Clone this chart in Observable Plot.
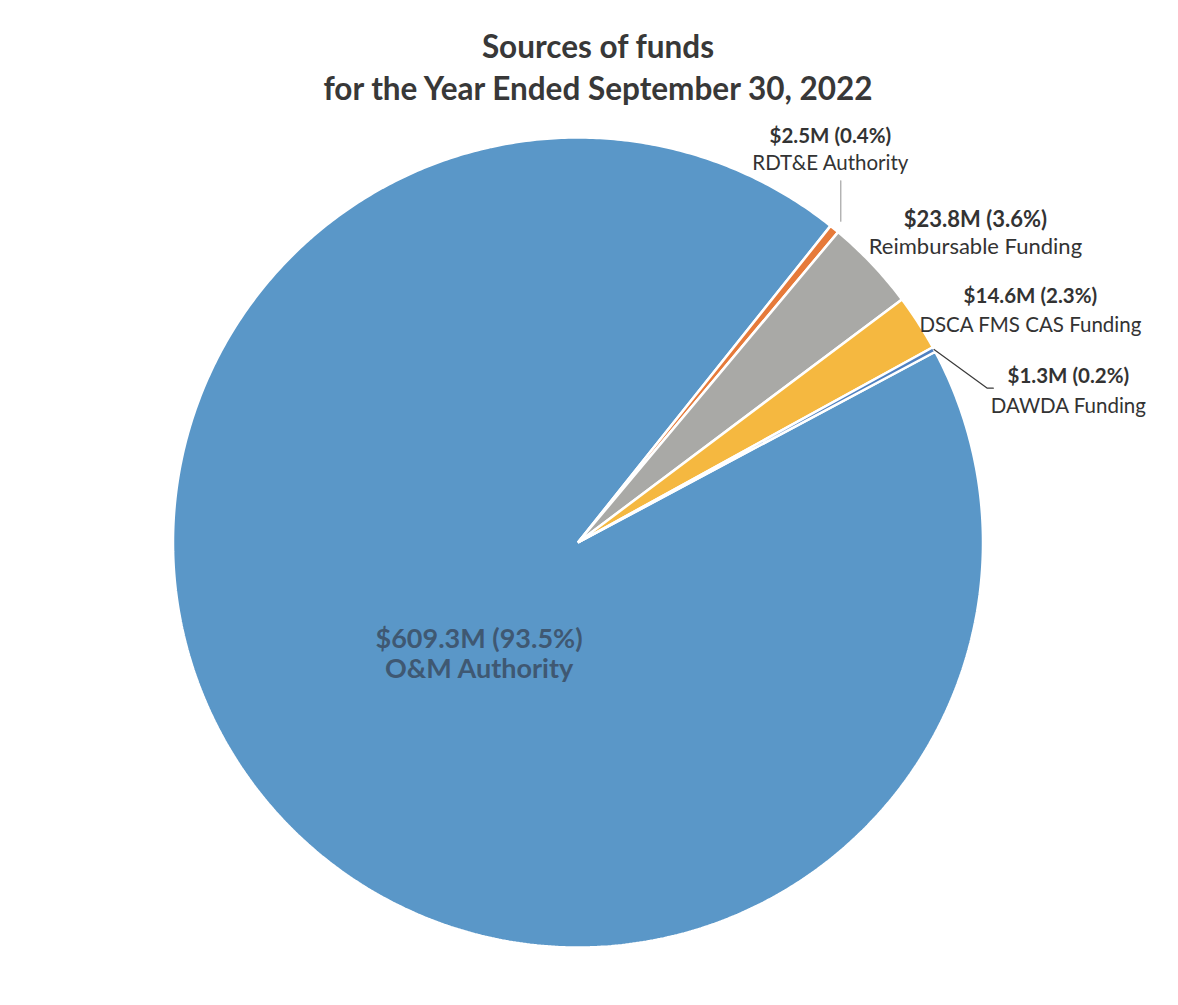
<!DOCTYPE html>
<html><head><meta charset="utf-8">
<script src="https://cdn.jsdelivr.net/npm/d3@7"></script>
<script src="https://cdn.jsdelivr.net/npm/@observablehq/plot@0.6"></script>
<style>
html,body{margin:0;padding:0;background:#fff;}
#wrap{width:1178px;height:1005px;position:relative;overflow:hidden;background:#fff}
#title{height:112px;box-sizing:border-box;padding-top:25px;padding-left:18px;text-align:center;font-family:Lato,"Open Sans",sans-serif;font-weight:700;font-size:31.5px;line-height:42px;color:#383838}
#title div{white-space:nowrap}
</style></head><body>
<div id="wrap">
  <div id="title"><div>Sources of funds</div><div>for the Year Ended September 30, 2022</div></div>
  <div id="chart"></div>
</div>
<script>
// ---- data ----
const categories = ["O&M Authority", "RDT&E Authority", "Reimbursable Funding", "DSCA FMS CAS Funding", "DAWDA Funding"];
const amounts = [609.3, 2.5, 23.8, 14.6, 1.3];          // $ millions
const amountText = ["$609.3M", "$2.5M", "$23.8M", "$14.6M", "$1.3M"];
const percentText = ["93.5%", "0.4%", "3.6%", "2.3%", "0.2%"];
const sliceColors = ["#5a97c8", "#e67a3a", "#a9a9a6", "#f5b840", "#4f80c0"];

// ---- layout (not data) ----
const W = 1178, H = 893, CX = 577.5, CY = 430, R = 405;
const ROTATION_DEG = 61.9;     // start angle of first slice, clockwise from 12 o'clock
// label anchor in polar coords (degrees clockwise from top, radius as fraction of R), font size, half line gap
const labelPolar = {
  "O&M Authority":        {angle: 219.5, r: 0.384, fs: 27,   gap: 15,   inside: true},
  "RDT&E Authority":      {angle: 33.2,  r: 1.138, fs: 20.5, gap: 13.5},
  "Reimbursable Funding": {angle: 52.8,  r: 1.232, fs: 22,   gap: 13.5},
  "DSCA FMS CAS Funding": {angle: 63.6,  r: 1.247, fs: 20.5, gap: 14.5},
  "DAWDA Funding":        {angle: 73.6,  r: 1.262, fs: 20.5, gap: 15}
};
const rad = d => d * Math.PI / 180;
const px = 1 / R; // one pixel in data units

const rows = categories.map((c, i) => ({name: c, amount: amounts[i], amt: amountText[i], pct: percentText[i]}));
const pie = d3.pie().sort(null).value(d => d.amount)
  .startAngle(rad(ROTATION_DEG)).endAngle(rad(ROTATION_DEG) + 2 * Math.PI);
const arcs = pie(rows);

// slice outlines
const slicePts = [];
arcs.forEach(a => {
  const name = a.data.name;
  const n = Math.max(2, Math.ceil((a.endAngle - a.startAngle) / rad(0.5)));
  slicePts.push({name, x: 0, y: 0});
  for (let k = 0; k <= n; k++) {
    const t = a.startAngle + (a.endAngle - a.startAngle) * k / n;
    slicePts.push({name, x: Math.sin(t), y: Math.cos(t)});
  }
});

// labels
const labels = arcs.map(a => {
  const p = labelPolar[a.data.name];
  return {
    name: a.data.name,
    line1: `${a.data.amt} (${a.data.pct})`,
    line2: a.data.name,
    x: Math.sin(rad(p.angle)) * p.r,
    y: Math.cos(rad(p.angle)) * p.r,
    fs: p.fs, gap: p.gap,
    mid: (a.startAngle + a.endAngle) / 2,
    inside: !!p.inside
  };
});

// leader lines
const leaderPts = [];
const rdte = labels.find(d => d.name === "RDT&E Authority");
{
  const sx = Math.sin(rdte.mid) * 1.025, sy = Math.cos(rdte.mid) * 1.025;
  leaderPts.push({id: "rdte", x: sx, y: sy}, {id: "rdte", x: sx, y: rdte.y - 24 * px});
}
const dawda = labels.find(d => d.name === "DAWDA Funding");
{
  const sx = Math.sin(dawda.mid) * 1.0, sy = Math.cos(dawda.mid) * 1.0;
  leaderPts.push({id: "dawda", x: sx, y: sy},
                 {id: "dawda", x: dawda.x - 81 * px, y: dawda.y + 10 * px},
                 {id: "dawda", x: dawda.x - 75 * px, y: dawda.y + 10 * px});
}

const textMarks = labels.flatMap(d => {
  const fill = d.inside ? "#3f5872" : "#333";
  return [
    Plot.text([d], {x: "x", y: "y", text: "line1", fontWeight: "bold", fontSize: d.fs, fill, lineAnchor: "middle", dy: -d.gap - 0.32 * d.fs}),
    Plot.text([d], {x: "x", y: "y", text: "line2", fontWeight: d.inside ? "bold" : "normal", fontSize: d.fs, fill, lineAnchor: "middle", dy: d.gap - 0.32 * d.fs})
  ];
});

const chart = Plot.plot({
  width: W, height: H, margin: 0,
  x: {domain: [-1, 1], range: [CX - R, CX + R], axis: null},
  y: {domain: [-1, 1], range: [CY + R, CY - R], axis: null},
  color: {domain: categories, range: sliceColors},
  style: {background: "#fff", fontFamily: "Lato, 'Open Sans', sans-serif"},
  marks: [
    Plot.line(slicePts, {x: "x", y: "y", z: "name", fill: "name", stroke: "white", strokeWidth: 2.5, strokeLinejoin: "miter", curve: "linear-closed"}),
    Plot.line(leaderPts.filter(d => d.id === "rdte"), {x: "x", y: "y", stroke: "#a3a3a3", strokeWidth: 1.2}),
    Plot.line(leaderPts.filter(d => d.id === "dawda"), {x: "x", y: "y", stroke: "#3a3a3a", strokeWidth: 1.2}),
    ...textMarks
  ]
});
document.getElementById("chart").appendChild(chart);
</script>
</body></html>
